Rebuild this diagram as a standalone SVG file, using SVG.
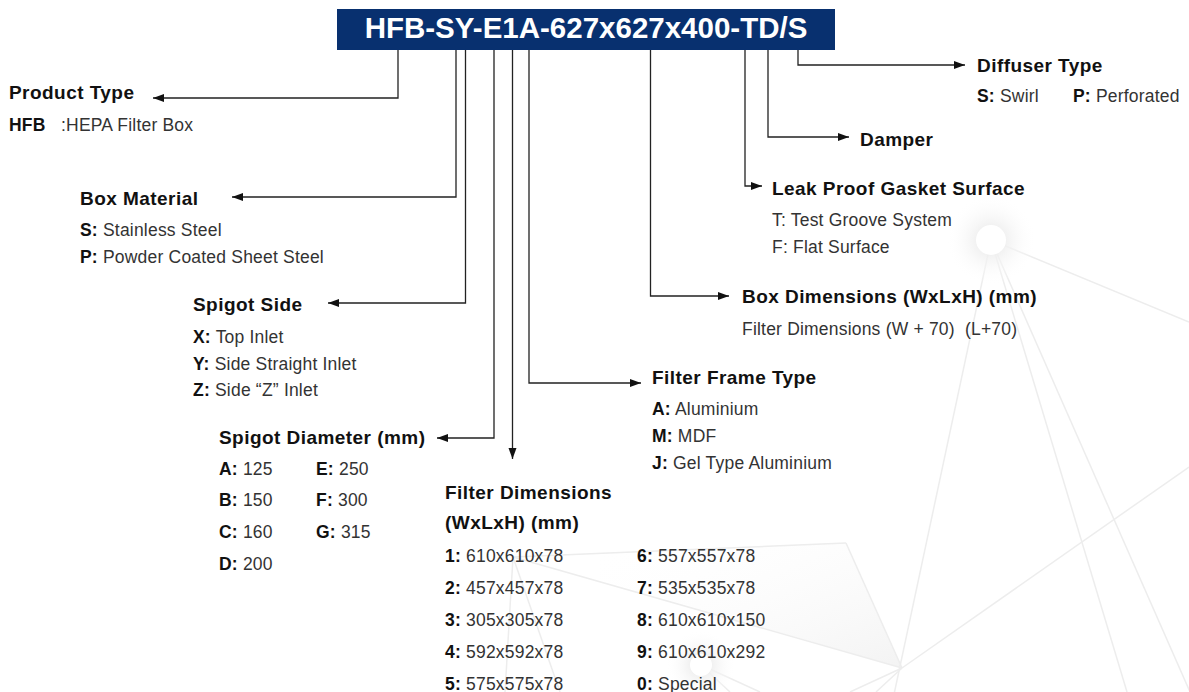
<svg xmlns="http://www.w3.org/2000/svg" width="1189" height="692" viewBox="0 0 1189 692">
  <style>
    .h { font-family: "Liberation Sans", Arial, sans-serif; font-weight: bold; font-size: 19px; fill: #111; letter-spacing: 0.45px; }
    .b { font-family: "Liberation Sans", Arial, sans-serif; font-size: 17.5px; fill: #333; white-space: pre; letter-spacing: 0.2px; }
    .b tspan.k { font-weight: bold; fill: #111; }
    .c { fill: none; stroke: #222; stroke-width: 1.3; }
    .bg { fill: none; stroke: #ededed; stroke-width: 1.5; }
  </style>
  <defs>
    <marker id="ah" markerUnits="userSpaceOnUse" markerWidth="12" markerHeight="9" refX="11" refY="4.5" orient="auto">
      <path d="M0,0.5 L11,4.5 L0,8.5 z" fill="#111"/>
    </marker>
    <radialGradient id="halo">
      <stop offset="0.3" stop-color="#efefef" stop-opacity="0.9"/>
      <stop offset="1" stop-color="#ffffff" stop-opacity="0"/>
    </radialGradient>
    <linearGradient id="tri" x1="0" y1="0" x2="1" y2="1">
      <stop offset="0" stop-color="#ffffff" stop-opacity="0"/>
      <stop offset="1" stop-color="#f0f0f0" stop-opacity="0.8"/>
    </linearGradient>
  </defs>

  <rect width="1189" height="692" fill="#ffffff"/>

  <!-- decorative background -->
  <g id="background">
    <polygon points="846,543 902,668 600,580 600,554" fill="url(#tri)"/>
    <line class="bg" x1="991" y1="240" x2="1189" y2="322"/>
    <line class="bg" x1="991" y1="240" x2="880" y2="760"/>
    <line class="bg" x1="991" y1="240" x2="1127" y2="692"/>
    <line class="bg" x1="991" y1="240" x2="1190" y2="692"/>
    <line class="bg" x1="1189" y1="467" x2="902" y2="668"/>
    <line class="bg" x1="846" y1="543" x2="902" y2="668"/>
    <line class="bg" x1="513" y1="557" x2="846" y2="543"/>
    <line class="bg" x1="513" y1="557" x2="902" y2="668"/>
    <line class="bg" x1="902" y1="668" x2="876" y2="692"/>
    <line class="bg" x1="902" y1="668" x2="850" y2="692"/>
    <line class="bg" x1="513" y1="557" x2="505" y2="692"/>
    <line class="bg" x1="513" y1="557" x2="560" y2="692"/>
    <line class="bg" x1="701" y1="665" x2="730" y2="692"/>
    <line class="bg" x1="701" y1="665" x2="760" y2="692"/>
    <circle cx="991" cy="240" r="45" fill="url(#halo)"/>
    <circle cx="991" cy="240" r="15" fill="#ffffff"/>
    <circle cx="701" cy="665" r="35" fill="url(#halo)"/>
    <circle cx="701" cy="665" r="11" fill="#ffffff"/>
  </g>

  <!-- title -->
  <g id="title">
    <rect x="337" y="9" width="498" height="41" fill="#08306f"/>
    <text x="586" y="38" text-anchor="middle" font-family="Liberation Sans, Arial, sans-serif" font-weight="bold" font-size="29.5" fill="#ffffff">HFB-SY-E1A-627x627x400-TD/S</text>
  </g>

  <!-- connectors -->
  <g id="connectors">
    <path class="c" d="M398,50 V98 H153" marker-end="url(#ah)"/>
    <path class="c" d="M456,50 V197 H232" marker-end="url(#ah)"/>
    <path class="c" d="M465.5,50 V303 H328" marker-end="url(#ah)"/>
    <path class="c" d="M494,50 V438 H437" marker-end="url(#ah)"/>
    <path class="c" d="M512.5,50 V459" marker-end="url(#ah)"/>
    <path class="c" d="M529,50 V383 H641" marker-end="url(#ah)"/>
    <path class="c" d="M650.5,50 V296 H729" marker-end="url(#ah)"/>
    <path class="c" d="M745,50 V186 H762" marker-end="url(#ah)"/>
    <path class="c" d="M768,50 V137 H849" marker-end="url(#ah)"/>
    <path class="c" d="M798,50 V65 H965" marker-end="url(#ah)"/>
  </g>

  <g id="product-type">
    <text class="h" x="9" y="99">Product Type</text>
    <text class="b" x="9" y="131"><tspan class="k">HFB</tspan></text>
    <text class="b" x="61" y="131">:HEPA Filter Box</text>
  </g>

  <g id="box-material">
    <text class="h" x="80" y="205">Box Material</text>
    <text class="b" x="80" y="236"><tspan class="k">S:</tspan> Stainless Steel</text>
    <text class="b" x="80" y="263"><tspan class="k">P:</tspan> Powder Coated Sheet Steel</text>
  </g>

  <g id="spigot-side">
    <text class="h" x="193" y="311">Spigot Side</text>
    <text class="b" x="193" y="343"><tspan class="k">X:</tspan> Top Inlet</text>
    <text class="b" x="193" y="370"><tspan class="k">Y:</tspan> Side Straight Inlet</text>
    <text class="b" x="193" y="396"><tspan class="k">Z:</tspan> Side “Z” Inlet</text>
  </g>

  <g id="spigot-diameter">
    <text class="h" x="219" y="444">Spigot Diameter (mm)</text>
    <text class="b" x="219" y="475"><tspan class="k">A:</tspan> 125</text>
    <text class="b" x="219" y="506"><tspan class="k">B:</tspan> 150</text>
    <text class="b" x="219" y="538"><tspan class="k">C:</tspan> 160</text>
    <text class="b" x="219" y="570"><tspan class="k">D:</tspan> 200</text>
    <text class="b" x="316" y="475"><tspan class="k">E:</tspan> 250</text>
    <text class="b" x="316" y="506"><tspan class="k">F:</tspan> 300</text>
    <text class="b" x="316" y="538"><tspan class="k">G:</tspan> 315</text>
  </g>

  <g id="filter-dimensions">
    <text class="h" x="445" y="499">Filter Dimensions</text>
    <text class="h" x="445" y="529">(WxLxH) (mm)</text>
    <text class="b" x="445" y="562"><tspan class="k">1:</tspan> 610x610x78</text>
    <text class="b" x="445" y="594"><tspan class="k">2:</tspan> 457x457x78</text>
    <text class="b" x="445" y="626"><tspan class="k">3:</tspan> 305x305x78</text>
    <text class="b" x="445" y="658"><tspan class="k">4:</tspan> 592x592x78</text>
    <text class="b" x="445" y="690"><tspan class="k">5:</tspan> 575x575x78</text>
    <text class="b" x="637" y="562"><tspan class="k">6:</tspan> 557x557x78</text>
    <text class="b" x="637" y="594"><tspan class="k">7:</tspan> 535x535x78</text>
    <text class="b" x="637" y="626"><tspan class="k">8:</tspan> 610x610x150</text>
    <text class="b" x="637" y="658"><tspan class="k">9:</tspan> 610x610x292</text>
    <text class="b" x="637" y="690"><tspan class="k">0:</tspan> Special</text>
  </g>

  <g id="filter-frame-type">
    <text class="h" x="652" y="384">Filter Frame Type</text>
    <text class="b" x="652" y="415"><tspan class="k">A:</tspan> Aluminium</text>
    <text class="b" x="652" y="442"><tspan class="k">M:</tspan> MDF</text>
    <text class="b" x="652" y="469"><tspan class="k">J:</tspan> Gel Type Aluminium</text>
  </g>

  <g id="box-dimensions">
    <text class="h" x="742" y="303">Box Dimensions (WxLxH) (mm)</text>
    <text class="b" x="742" y="335">Filter Dimensions (W + 70)  (L+70)</text>
  </g>

  <g id="leak-proof">
    <text class="h" x="772" y="195">Leak Proof Gasket Surface</text>
    <text class="b" x="772" y="226">T: Test Groove System</text>
    <text class="b" x="772" y="253">F: Flat Surface</text>
  </g>

  <g id="damper">
    <text class="h" x="860" y="146">Damper</text>
  </g>

  <g id="diffuser-type">
    <text class="h" x="977" y="72">Diffuser Type</text>
    <text class="b" x="977" y="102"><tspan class="k">S:</tspan> Swirl</text>
    <text class="b" x="1073" y="102"><tspan class="k">P:</tspan> Perforated</text>
  </g>
</svg>
